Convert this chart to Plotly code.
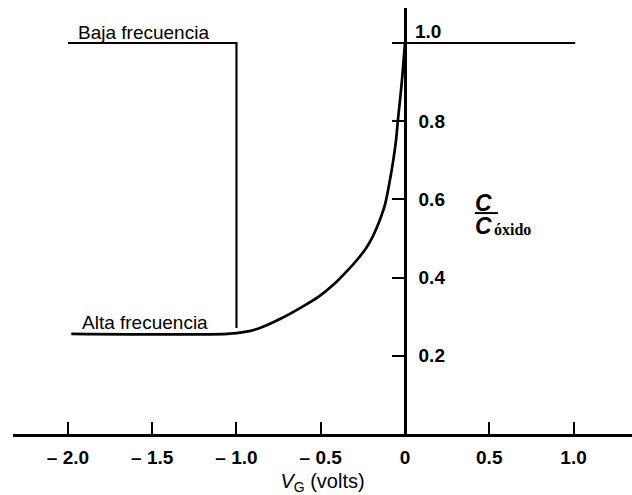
import plotly.graph_objects as go

# Gate voltage ticks
x_ticks = [-2.0, -1.5, -1.0, -0.5, 0.0, 0.5, 1.0]
x_tick_text = ["\u2013 2.0", "\u2013 1.5", "\u2013 1.0", "\u2013 0.5", "0", "0.5", "1.0"]
y_ticks = [0.2, 0.4, 0.6, 0.8, 1.0]
y_tick_text = ["0.2", "0.4", "0.6", "0.8", ""]

# Low-frequency curve: flat at C_ox, drops sharply at V_G = -1.0 V
low_x = [-2.0, -1.0, -1.0]
low_y = [1.0, 1.0, 0.271]

# High-frequency curve: flat minimum, rising to C_ox near V_G = 0
high_x = [-1.98, -1.056, -0.950, -0.861, -0.742, -0.623, -0.516, -0.427, -0.350,
          -0.285, -0.231, -0.190, -0.154, -0.119, -0.095, -0.071, -0.053, -0.042,
          -0.030, -0.018, -0.009, 0.0]
high_y = [0.256, 0.256, 0.261, 0.271, 0.294, 0.322, 0.350, 0.381, 0.414,
          0.445, 0.475, 0.506, 0.542, 0.586, 0.636, 0.696, 0.752, 0.803,
          0.852, 0.905, 0.951, 1.0]

# Accumulation region: C = C_ox
acc_x = [0.0, 1.01]
acc_y = [1.0, 1.0]

x_range = [-2.326, 1.347]
y_range = [0.0, 1.0895]

FONT = "Liberation Sans, Arial, sans-serif"
SERIF = "Liberation Serif, Times New Roman, serif"
INK = "#000000"

fig = go.Figure()
fig.add_trace(go.Scatter(x=low_x, y=low_y, mode="lines",
                         line=dict(color=INK, width=2.2), hoverinfo="skip"))
fig.add_trace(go.Scatter(x=high_x, y=high_y, mode="lines",
                         line=dict(color=INK, width=2.7, shape="spline", smoothing=0.8),
                         hoverinfo="skip"))
fig.add_trace(go.Scatter(x=acc_x, y=acc_y, mode="lines",
                         line=dict(color=INK, width=2.2), hoverinfo="skip"))

y_pos = (0 - x_range[0]) / (x_range[1] - x_range[0])

fig.update_layout(
    width=632, height=495,
    margin=dict(l=13, r=0, t=8, b=61),
    paper_bgcolor="white", plot_bgcolor="white",
    showlegend=False,
    font=dict(family=FONT, size=19, color=INK),
    xaxis=dict(
        range=x_range, showgrid=False, zeroline=False,
        showline=True, linecolor=INK, linewidth=2.5,
        ticks="inside", ticklen=12, tickwidth=2, tickcolor=INK,
        tickvals=x_ticks, ticktext=x_tick_text,
        tickfont=dict(family=FONT, size=19, color=INK, weight="bold"),
        ticklabelstandoff=4,
        title=dict(text="<i>V</i><sub>G</sub> (volts)",
                   font=dict(family=FONT, size=20, color=INK), standoff=8),
    ),
    yaxis=dict(
        range=y_range, showgrid=False, zeroline=False,
        anchor="free", position=y_pos, side="right",
        showline=True, linecolor=INK, linewidth=2.5,
        ticks="inside", ticklen=12, tickwidth=2, tickcolor=INK,
        tickvals=y_ticks, ticktext=y_tick_text,
        ticklabelstandoff=8,
        tickfont=dict(family=FONT, size=19, color=INK, weight="bold"),
    ),
)

# Label for the top tick, set just above the C_ox line
fig.add_annotation(x=0, y=1.0, xref="x", yref="y", text="<b>1.0</b>",
                   showarrow=False, xanchor="left", yanchor="bottom",
                   xshift=8, yshift=-1, font=dict(family=FONT, size=19, color=INK))

# Curve labels
fig.add_annotation(x=-1.95, y=1.028, xref="x", yref="y", text="Baja frecuencia",
                   showarrow=False, xanchor="left", yanchor="middle",
                   font=dict(family=FONT, size=19, color=INK))
fig.add_annotation(x=-1.93, y=0.286, xref="x", yref="y", text="Alta frecuencia",
                   showarrow=False, xanchor="left", yanchor="middle",
                   font=dict(family=FONT, size=19, color=INK))

# Vertical axis quantity: C / C_oxido
fig.add_annotation(x=0.415, y=0.590, xref="x", yref="y", text="<i><b>C</b></i>",
                   showarrow=False, xanchor="left", yanchor="middle",
                   xshift=-2, font=dict(family=FONT, size=23, color=INK))
fig.add_shape(type="line", xref="x", yref="y", x0=0.415, x1=0.552, y0=0.565, y1=0.565,
              line=dict(color=INK, width=2))
fig.add_annotation(x=0.415, y=0.532, xref="x", yref="y", text="<i><b>C</b></i>",
                   showarrow=False, xanchor="left", yanchor="middle",
                   xshift=-2, font=dict(family=FONT, size=23, color=INK))
fig.add_annotation(x=0.530, y=0.522, xref="x", yref="y", text="<b>óxido</b>",
                   showarrow=False, xanchor="left", yanchor="middle",
                   xshift=-2, font=dict(family=SERIF, size=16, color=INK))

fig.write_html("out.html")
